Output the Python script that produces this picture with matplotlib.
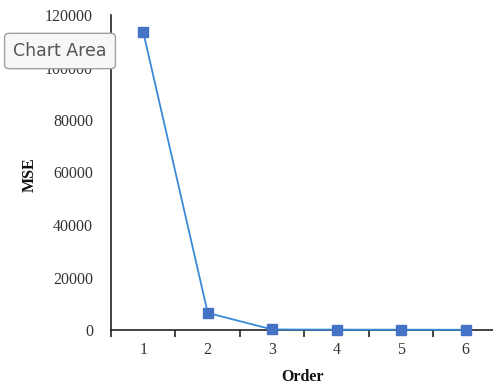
import matplotlib
matplotlib.use('Agg')
import matplotlib.pyplot as plt

orders = [1, 2, 3, 4, 5, 6]
mse = [113500, 6500, 200, 150, 120, 100]
yticks = [0, 20000, 40000, 60000, 80000, 100000, 120000]

plt.rcParams['font.family'] = ['Liberation Serif', 'DejaVu Serif']

fig = plt.figure(figsize=(4.93, 3.87), dpi=100)
# axes placed in pixel terms: left 111, right ~498, bottom 330, top 15
ax = fig.add_axes([111 / 493, (387 - 330) / 387, 387 / 493, 315 / 387])

ax.plot(orders, mse, color='#3b8ad9', linewidth=1.3, marker='s', markersize=7,
        markerfacecolor='#4472c4', markeredgecolor='#4472c4', clip_on=False, zorder=3)

ax.set_xlim(0.5, 6.5)
ax.set_ylim(0, 120000)
ax.set_yticks(yticks)
ax.set_yticklabels([str(v) for v in yticks])
ax.set_xticks(orders)
ax.set_xticks([o + 0.5 for o in [0] + orders], minor=True)

ax.spines['top'].set_visible(False)
ax.spines['right'].set_visible(False)
ax.spines['left'].set_color('#222222')
ax.spines['bottom'].set_color('#222222')
ax.spines['left'].set_linewidth(1.2)
ax.spines['bottom'].set_linewidth(1.2)

ax.tick_params(axis='y', length=0, pad=13, labelsize=11.5, labelcolor='#333333')
ax.tick_params(axis='x', which='major', length=0, pad=9, labelsize=11.5, labelcolor='#333333')
ax.tick_params(axis='x', which='minor', length=5, width=1.2, color='#222222', direction='out')

ax.set_xlabel('Order', fontsize=11.5, color='#111111', fontweight='semibold')
ax.set_ylabel('MSE', fontsize=11.5, color='#111111', fontweight='semibold')
ax.xaxis.set_label_coords((303 - 111) / 387, -(377 - 330) / 315)
ax.yaxis.set_label_coords((30 - 111) / 387, (330 - 175) / 315)
ax.xaxis.label.set_va('center')
ax.yaxis.label.set_va('center')

# the "Chart Area" hover tip seen in the screenshot
fig.text(60, 387 - 51, 'Chart Area', transform=None, fontsize=12.5,
         family=['DejaVu Sans'], color='#555555', ha='center', va='center',
         bbox=dict(boxstyle='round,pad=0.5,rounding_size=0.25', facecolor='#f7f7fa',
                   edgecolor='#a0a0a0', linewidth=1))

fig.savefig('out.png', dpi=100)
